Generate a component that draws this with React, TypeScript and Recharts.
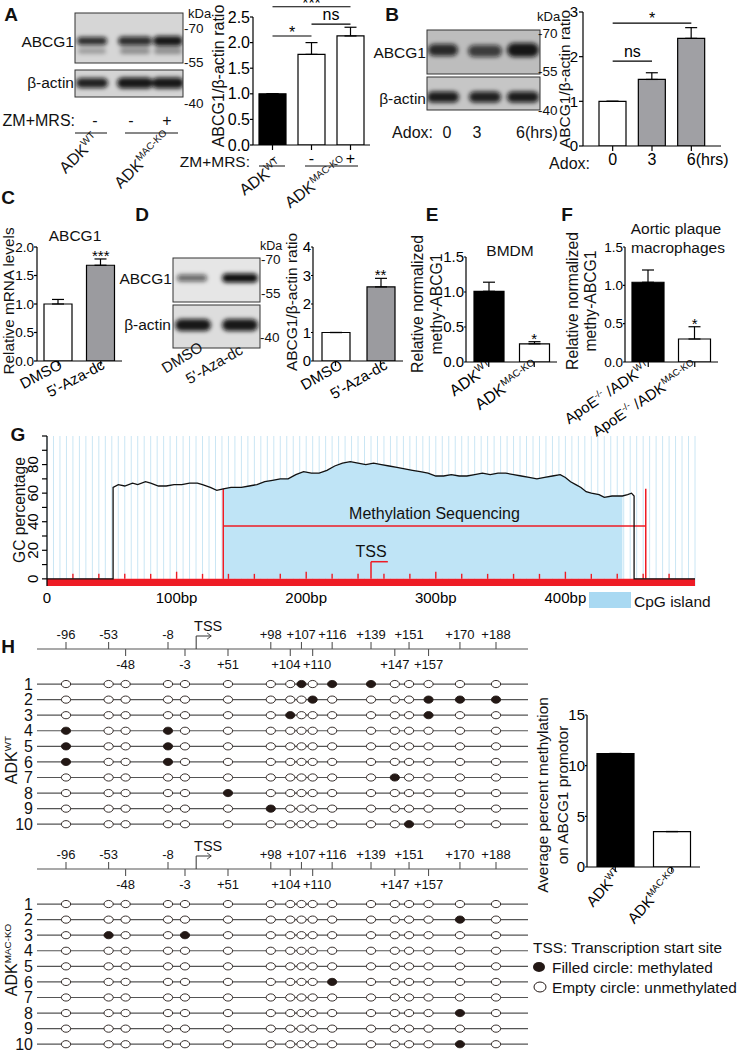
import React from 'react';
import {
  Area,
  Bar,
  BarChart,
  CartesianGrid,
  Cell,
  ComposedChart,
  ErrorBar,
  Line,
  ReferenceArea,
  ReferenceDot,
  ReferenceLine,
  Scatter,
  ScatterChart,
  XAxis,
  YAxis,
} from 'recharts';

const FONT = '"Liberation Sans", Arial, Helvetica, sans-serif';

// A: ABCG1 / beta-actin, ZM+MRS treatment
const aGroups = ['WT -', 'KO -', 'KO +'];
const aZmMrs = ['-', '-', '+'];
const aRatio = [1.0, 1.77, 2.13];
const aSem = [0, 0.23, 0.17];

// B: Adox time course
const bGroups = ['0h', '3h', '6h'];
const bAdox = ['0', '3', '6(hrs)'];
const bRatio = [1.0, 1.49, 2.41];
const bSem = [0, 0.15, 0.24];

// C: ABCG1 mRNA
const cGroups = ['DMSO', "5'-Aza-dc"];
const cMrna = [1.0, 1.68];
const cSem = [0.08, 0.11];

// D: ABCG1 protein after 5'-Aza-dc
const dRatio = [1.0, 2.6];
const dSem = [0, 0.3];

// E: BMDM methylation
const eGroups = ['ADK{WT}', 'ADK{MAC-KO}'];
const eMethy = [1.01, 0.26];
const eSem = [0.13, 0.03];

// F: aortic plaque macrophages
const fGroups = ['ApoE{-/-} /ADK{WT}', 'ApoE{-/-} /ADK{MAC-KO}'];
const fMethy = [1.04, 0.3];
const fSem = [0.16, 0.16];

// G: GC percentage along the promoter
const gcBp = [
  0, 51, 51, 55, 60, 66, 70, 76, 80, 86, 92, 98, 104, 110, 116, 120, 126, 131, 136, 142,
  150, 156, 162, 168, 174, 180, 186, 192, 198, 204, 210, 216, 222, 228, 234, 240, 246, 252,
  258, 264, 270, 276, 282, 288, 294, 300, 306, 312, 318, 324, 330, 336, 342, 348, 354, 360,
  366, 372, 378, 384, 390, 396, 400, 404, 408, 412, 416, 420, 426, 430, 436, 440, 444, 448,
  451, 453, 453, 500,
];
const gcPct = [
  0, 0, 64, 66, 65, 67, 66, 68, 67, 65, 65, 66, 66, 67, 67, 66, 64, 62, 63, 64,
  64, 65, 66, 68, 69, 70, 70, 73, 75, 74, 74, 76, 79, 81, 82, 81, 80, 81,
  80, 79, 78, 77, 76, 75, 74, 72, 72, 73, 72, 72, 73, 74, 73, 74, 74, 73,
  72, 71, 70, 71, 72, 73, 71, 68, 66, 64, 61, 60, 59, 57, 58, 58, 58, 59,
  60, 58, 0, 0,
];
const islandStart = 136;
const islandEnd = 444;
const seqStart = 136;
const seqEnd = 462;
const seqLevel = 37;
const seqTop = 63;
const tssBp = 250;
const gcXTicks = [0, 100, 200, 300, 400];
const gcYTicks = [0, 10, 20, 30, 40, 50, 60, 70, 80, 90, 100];
const redTicks = [20, 40, 60, 80, 100, 120, 140, 160, 180, 200, 220, 240, 260, 280, 300, 320, 340, 360, 380, 400, 420, 440, 460, 480];
const stripeTicks = Array.from({ length: 101 }, (_, i) => i * 5);

// H: bisulfite sequencing of CpG sites (bp relative to TSS)
const sites = [-96, -53, -48, -8, -3, 51, 98, 104, 107, 110, 116, 139, 147, 151, 157, 170, 188];
const upperSites = [-96, -53, -8, 98, 107, 116, 139, 151, 170, 188];
const wtMethylated = [
  [107, 116, 139],
  [110, 157, 170, 188],
  [104, 157],
  [-96, -8],
  [-96, -8],
  [-96, -8],
  [147],
  [51],
  [98],
  [151],
];
const koMethylated = [[], [170], [-53, -3], [], [], [116], [], [170], [], [170]];
const cloneRows = [1, 2, 3, 4, 5, 6, 7, 8, 9, 10];
const hGroups = ['ADK{WT}', 'ADK{MAC-KO}'];
const hPercent = [11.2, 3.5];

// schematic spacing of the CpG map: short gaps are widened, long ones squeezed
const gapWidth = (bp: number) => 1 - Math.exp(-bp / 10);
const sitePos = sites.reduce<number[]>((acc, s, i) => {
  acc.push(i === 0 ? 0 : acc[i - 1] + gapWidth(s - sites[i - 1]));
  return acc;
}, []);
const lastUpstream = sites.filter((s) => s < 0).length - 1;
const tssPos = sitePos[lastUpstream] + gapWidth(0 - sites[lastUpstream]);
const siteTicks = [...sitePos, tssPos].sort((a, b) => a - b);

// map chart geometry, also used to keep neighbouring site labels apart
const MAP_W = 530;
const MAP_YW = 37;
const MAP_PAD_L = 29;
const MAP_PAD_R = 32;
const MAP_MR = 2;
const unitPx = (MAP_W - MAP_MR - MAP_YW - MAP_PAD_L - MAP_PAD_R) / sitePos[sitePos.length - 1];
const siteLabel = (s: number) => (s > 0 ? `+${s}` : `${s}`);
const labelWidth = (t: string) => [...t].reduce((w, ch) => w + (ch === '+' ? 7.6 : ch === '-' ? 4.3 : 7.2), 0);
const labelShift: Record<number, number> = {};
[true, false].forEach((up) => {
  const row = sites
    .map((s, i) => ({ s, c: sitePos[i] * unitPx, w: labelWidth(siteLabel(s)) }))
    .filter((d) => upperSites.includes(d.s) === up);
  const shift = row.map(() => 0);
  for (let k = 0; k < row.length - 1; k++) {
    const need = (row[k].w + row[k + 1].w) / 2 + 2;
    const gap = row[k + 1].c + shift[k + 1] - (row[k].c + shift[k]);
    if (gap < need) {
      shift[k] -= (need - gap) / 2;
      shift[k + 1] += (need - gap) / 2;
    }
  }
  row.forEach((d, k) => {
    labelShift[d.s] = shift[k];
  });
});

function rich(label: string, fs: number) {
  const parts = label.split(/(\{[^}]*\})/).filter(Boolean);
  return parts.map((p, i) => {
    const sup = p.startsWith('{');
    const prevSup = i > 0 && parts[i - 1].startsWith('{');
    if (sup) {
      return (
        <tspan key={i} fontSize={fs * 0.62} dy={-fs * 0.4}>
          {p.slice(1, -1)}
        </tspan>
      );
    }
    return (
      <tspan key={i} fontSize={fs} dy={prevSup ? fs * 0.4 : 0}>
        {p}
      </tspan>
    );
  });
}

const plainTick = (labels: string[], fs: number, shift = 0) => (p: any) => (
  <text
    x={p.x + shift}
    y={p.y}
    dy="0.78em"
    textAnchor={shift ? 'start' : 'middle'}
    fontSize={fs}
    fontFamily={FONT}
    fill="#000"
  >
    {labels[p.index]}
  </text>
);

const rotTick = (labels: string[], fs: number, angle: number, dx: number, dy: number) => (p: any) => (
  <g transform={`translate(${p.x + dx},${p.y + dy}) rotate(${angle})`}>
    <text x={0} y={0} dy="0.72em" textAnchor="end" fontSize={fs} fontFamily={FONT} fill="#000">
      {rich(labels[p.index], fs)}
    </text>
  </g>
);

interface Bracket {
  from: number;
  to: number;
  y: number;
  text: string;
  offset: number;
}

interface Star {
  index: number;
  text: string;
  offset: number;
}

interface BarPanelProps {
  left: number;
  right: number;
  top: number;
  bottom: number;
  names: string[];
  values: number[];
  sems: number[];
  fills: string[];
  max: number;
  ticks: number[];
  decimals: number;
  fontSize: number;
  barSize: number;
  tick: (p: any) => React.ReactElement;
  yTickSize?: number;
  yTickMargin?: number;
  padX?: number;
  brackets?: Bracket[];
  stars?: Star[];
}

function BarPanel(props: BarPanelProps) {
  const YW = 110;
  const MT = 40;
  const MR = 30;
  const XH = 110;
  const data = props.names.map((name, i) => ({
    name,
    value: props.values[i],
    sem: [0, props.sems[i]],
  }));
  return (
    <div style={{ position: 'absolute', left: props.left - YW, top: props.top - MT }}>
      <BarChart
        width={YW + props.right - props.left + MR}
        height={MT + props.bottom - props.top + XH}
        data={data}
        margin={{ top: MT, right: MR, bottom: 0, left: 0 }}
      >
        <XAxis
          dataKey="name"
          type="category"
          height={XH}
          interval={0}
          tick={props.tick}
          tickSize={5}
          axisLine={{ stroke: '#000', strokeWidth: 1.2 }}
          tickLine={{ stroke: '#000', strokeWidth: 1.2 }}
          padding={{ left: props.padX ?? 0, right: props.padX ?? 0 }}
        />
        <YAxis
          type="number"
          domain={[0, props.max]}
          ticks={props.ticks}
          allowDataOverflow
          interval={0}
          width={YW}
          tickSize={props.yTickSize ?? 3}
          tickMargin={props.yTickMargin ?? 0}
          tickFormatter={(v: number) => v.toFixed(props.decimals)}
          tick={{ fontSize: props.fontSize, fill: '#000', fontFamily: FONT }}
          axisLine={{ stroke: '#000', strokeWidth: 1.2 }}
          tickLine={{ stroke: '#000', strokeWidth: 1.2 }}
        />
        <Bar dataKey="value" barSize={props.barSize} stroke="#000" strokeWidth={1.2} isAnimationActive={false}>
          {data.map((d, i) => (
            <Cell key={d.name} fill={props.fills[i]} />
          ))}
          <ErrorBar dataKey="sem" width={6} stroke="#000" strokeWidth={1.2} direction="y" isAnimationActive={false} />
        </Bar>
        {(props.brackets ?? []).map((b) => (
          <ReferenceLine
            key={b.text + b.from + b.to}
            segment={[
              { x: props.names[b.from], y: b.y },
              { x: props.names[b.to], y: b.y },
            ]}
            stroke="#000"
            strokeWidth={1.1}
            ifOverflow="visible"
            label={{ value: b.text, position: 'top', offset: b.offset, fontSize: 16, fill: '#000', fontFamily: FONT }}
          />
        ))}
        {(props.stars ?? []).map((s) => (
          <ReferenceDot
            key={s.text + s.index}
            x={props.names[s.index]}
            y={props.values[s.index] + props.sems[s.index]}
            r={0}
            fill="none"
            stroke="none"
            ifOverflow="visible"
            label={{ value: s.text, position: 'top', offset: s.offset, fontSize: 15, fill: '#000', fontFamily: FONT }}
          />
        ))}
      </BarChart>
    </div>
  );
}

const GcYTick = (p: any) => {
  const v = p.payload.value;
  if (v % 20 !== 0 || v === 100) return <g />;
  const x = p.x - 0.5;
  return (
    <text
      x={x}
      y={p.y}
      transform={`rotate(-90 ${x} ${p.y})`}
      textAnchor="middle"
      fontSize={15}
      fontFamily={FONT}
      fill="#000"
    >
      {v}
    </text>
  );
};

function GcChart() {
  const data = gcBp.map((bp, i) => ({
    bp,
    gc: gcPct[i],
    island: bp >= islandStart && bp <= islandEnd ? gcPct[i] : null,
  }));
  return (
    <div style={{ position: 'absolute', left: 0, top: 426 }}>
      <ComposedChart width={705} height={185} data={data} margin={{ top: 10, right: 10, bottom: 0, left: 0 }}>
        <XAxis
          xAxisId="stripe"
          type="number"
          dataKey="bp"
          domain={[0, 500]}
          ticks={stripeTicks}
          interval={0}
          allowDataOverflow
          hide
        />
        <CartesianGrid xAxisId="stripe" horizontal={false} syncWithTicks stroke="#cae6f4" strokeWidth={1} />
        <XAxis
          type="number"
          dataKey="bp"
          domain={[0, 500]}
          allowDataOverflow
          ticks={gcXTicks}
          interval={0}
          tickFormatter={(v: number) => (v === 0 ? '0' : `${v}bp`)}
          axisLine={false}
          tickLine={false}
          tickSize={0}
          tickMargin={6}
          height={25}
          tick={{ fontSize: 15, fill: '#000', fontFamily: FONT }}
        />
        <YAxis
          type="number"
          domain={[-5, 100]}
          ticks={gcYTicks}
          interval={0}
          allowDataOverflow
          width={47}
          tickSize={5}
          tickMargin={3}
          tick={GcYTick}
          axisLine={{ stroke: '#000', strokeWidth: 1.2 }}
          tickLine={{ stroke: '#000', strokeWidth: 1.2 }}
        />
        <Area
          type="linear"
          dataKey="island"
          baseValue={0}
          fill="#bfe4f6"
          fillOpacity={1}
          stroke="none"
          isAnimationActive={false}
        />
        <ReferenceArea x1={0} x2={500} y1={-5} y2={0} fill="#ee1c25" fillOpacity={1} stroke="none" ifOverflow="visible" />
        {redTicks.map((t) => (
          <ReferenceLine
            key={t}
            segment={[
              { x: t, y: 0 },
              { x: t, y: t % 100 === 0 ? 5 : 3.5 },
            ]}
            stroke="#ee1c25"
            strokeWidth={1.4}
          />
        ))}
        <ReferenceLine
          segment={[
            { x: seqStart, y: 0 },
            { x: seqStart, y: seqTop },
          ]}
          stroke="#ee1c25"
          strokeWidth={1.5}
        />
        <ReferenceLine
          segment={[
            { x: seqEnd, y: 0 },
            { x: seqEnd, y: seqTop },
          ]}
          stroke="#ee1c25"
          strokeWidth={1.5}
        />
        <ReferenceLine
          segment={[
            { x: seqStart, y: seqLevel },
            { x: seqEnd, y: seqLevel },
          ]}
          stroke="#ee1c25"
          strokeWidth={1.5}
          label={{ value: 'Methylation Sequencing', position: 'top', offset: 7, fontSize: 16, fill: '#111', fontFamily: FONT }}
        />
        <ReferenceLine
          segment={[
            { x: tssBp, y: 0 },
            { x: tssBp, y: 12 },
          ]}
          stroke="#ee1c25"
          strokeWidth={1.5}
          label={{ value: 'TSS', position: 'top', offset: 5, fontSize: 16, fill: '#111', fontFamily: FONT }}
        />
        <ReferenceLine
          segment={[
            { x: tssBp, y: 12 },
            { x: tssBp + 13, y: 12 },
          ]}
          stroke="#ee1c25"
          strokeWidth={1.5}
        />
        <Line type="linear" dataKey="gc" stroke="#111" strokeWidth={1.3} dot={false} isAnimationActive={false} />
      </ComposedChart>
    </div>
  );
}

const SiteTick = (p: any) => {
  const v = p.payload.value;
  const x = p.x;
  const y = p.y;
  if (Math.abs(v - tssPos) < 1e-9) {
    return (
      <g>
        <line x1={x} y1={y} x2={x} y2={y - 13} stroke="#444" strokeWidth={1.1} />
        <line x1={x} y1={y - 13} x2={x + 15} y2={y - 13} stroke="#444" strokeWidth={1.1} />
        <path d={`M${x + 11},${y - 16} L${x + 15},${y - 13} L${x + 11},${y - 10}`} fill="none" stroke="#444" strokeWidth={1} />
        <text x={x + 12} y={y - 18} textAnchor="middle" fontSize={14.5} fontFamily={FONT} fill="#111">
          TSS
        </text>
      </g>
    );
  }
  const i = sitePos.findIndex((s) => Math.abs(s - v) < 1e-9);
  const site = sites[i];
  const up = upperSites.includes(site);
  return (
    <g>
      <line x1={x} y1={y} x2={x} y2={up ? y - 7 : y + 7} stroke="#555" strokeWidth={1.1} />
      <text
        x={x + (labelShift[site] ?? 0)}
        y={up ? y - 10 : y + 20}
        textAnchor="middle"
        fontSize={13}
        fontFamily={FONT}
        fill="#111"
      >
        {siteLabel(site)}
      </text>
    </g>
  );
};

const SiteDot = (p: any) => (
  <ellipse
    cx={p.cx}
    cy={p.cy}
    rx={4.6}
    ry={3.6}
    fill={p.payload.m ? '#231815' : '#fff'}
    stroke="#231815"
    strokeWidth={0.9}
  />
);

function MethylationMap({ rows, axisY }: { rows: number[][]; axisY: number }) {
  const points = rows.flatMap((m, r) =>
    sites.map((s, i) => ({ pos: sitePos[i], row: cloneRows[r], m: m.includes(s) })),
  );
  return (
    <div style={{ position: 'absolute', left: 0, top: axisY - 40 }}>
      <ScatterChart width={MAP_W} height={223} margin={{ top: 10, right: MAP_MR, bottom: 0, left: 0 }}>
        <CartesianGrid horizontal vertical={false} syncWithTicks stroke="#555" strokeWidth={1.2} />
        <XAxis
          type="number"
          dataKey="pos"
          orientation="top"
          height={30}
          domain={['dataMin', 'dataMax']}
          padding={{ left: MAP_PAD_L, right: MAP_PAD_R }}
          ticks={siteTicks}
          interval={0}
          tick={SiteTick}
          tickLine={false}
          tickSize={0}
          tickMargin={0}
          axisLine={{ stroke: '#555', strokeWidth: 1.2 }}
        />
        <YAxis
          type="number"
          dataKey="row"
          domain={[-1.25, 10.5]}
          reversed
          allowDataOverflow
          ticks={cloneRows}
          interval={0}
          width={MAP_YW}
          axisLine={false}
          tickLine={false}
          tickSize={2}
          tickMargin={2}
          tick={{ fontSize: 16, fill: '#111', fontFamily: FONT }}
        />
        <Scatter data={points} shape={SiteDot} isAnimationActive={false} />
      </ScatterChart>
    </div>
  );
}

function Blot({ x, y, w, h, bg, bands }: { x: number; y: number; w: number; h: number; bg: string; bands: number[][] }) {
  const id = `clip-${x}-${y}`;
  return (
    <g>
      <clipPath id={id}>
        <rect x={x} y={y} width={w} height={h} />
      </clipPath>
      <rect x={x} y={y} width={w} height={h} fill={bg} />
      <g clipPath={`url(#${id})`}>
        <g filter="url(#blotBlur)">
          {bands.map((b, i) => (
            <rect key={i} x={b[0] - b[2]} y={b[1] - b[3]} width={b[2] * 2} height={b[3] * 2} rx={b[3]} fill="#0b0b0b" opacity={b[4]} />
          ))}
        </g>
      </g>
      <rect x={x} y={y} width={w} height={h} fill="none" stroke="#333" strokeWidth={1} />
    </g>
  );
}

function T({
  x,
  y,
  size = 16,
  anchor = 'start',
  rotate = 0,
  weight = 400,
  children,
}: {
  x: number;
  y: number;
  size?: number;
  anchor?: 'start' | 'middle' | 'end';
  rotate?: number;
  weight?: number;
  children: React.ReactNode;
}) {
  return (
    <text
      x={x}
      y={y}
      fontSize={size}
      fontWeight={weight}
      textAnchor={anchor}
      dominantBaseline="central"
      fontFamily={FONT}
      fill="#111"
      transform={rotate ? `rotate(${rotate} ${x} ${y})` : undefined}
    >
      {children}
    </text>
  );
}

function RotLabel({ x, y, angle, label, size = 16 }: { x: number; y: number; angle: number; label: string; size?: number }) {
  return (
    <g transform={`translate(${x},${y}) rotate(${angle})`}>
      <text x={0} y={0} dy="0.72em" textAnchor="end" fontSize={size} fontFamily={FONT} fill="#111">
        {rich(label, size)}
      </text>
    </g>
  );
}

function Overlay() {
  return (
    <svg width={738} height={1050} style={{ position: 'absolute', left: 0, top: 0, pointerEvents: 'none' }}>
      <defs>
        <filter id="blotBlur" x="-30%" y="-80%" width="160%" height="260%">
          <feGaussianBlur stdDeviation="2.2" />
        </filter>
      </defs>

      {/* panel letters */}
      {[
        ['A', 11, 14],
        ['B', 392, 14],
        ['C', 8, 197],
        ['D', 142, 214],
        ['E', 432, 214],
        ['F', 567, 214],
        ['G', 18, 434],
        ['H', 8, 646],
      ].map(([l, x, y]) => (
        <T key={l as string} x={x as number} y={y as number} size={19} weight={700} anchor="middle">
          {l}
        </T>
      ))}

      {/* A blot */}
      <Blot x={75} y={13} w={108} h={50} bg="#d6d6d6" bands={[[92, 41, 15, 4, 0.85], [135, 41, 17, 4.5, 0.85], [168, 41, 15, 5, 0.95], [92, 51, 14, 2.5, 0.3], [135, 51, 15, 3, 0.35], [168, 51, 14, 3, 0.35]]} />
      <Blot x={75} y={70} w={108} h={27} bg="#d4d4d4" bands={[[92, 83, 16, 5, 0.9], [135, 83, 18, 5.5, 0.95], [168, 83, 16, 5.5, 0.95]]} />
      <T x={74} y={41} anchor="end" size={15.5}>ABCG1</T>
      <T x={74} y={82} anchor="end" size={15.5}>β-actin</T>
      <T x={188} y={13} size={13}>kDa</T>
      <T x={184} y={28} size={13.5}>-70</T>
      <T x={184} y={62} size={13.5}>-55</T>
      <T x={184} y={103} size={13.5}>-40</T>
      <T x={75} y={120} anchor="end">ZM+MRS:</T>
      <T x={95} y={120} anchor="middle">-</T>
      <T x={131} y={120} anchor="middle">-</T>
      <T x={167} y={120} anchor="middle">+</T>
      <line x1={75} y1={133} x2={107} y2={133} stroke="#111" />
      <line x1={125} y1={133} x2={178} y2={133} stroke="#111" />
      <RotLabel x={100} y={140} angle={-45} label="ADK{WT}" />
      <RotLabel x={172} y={138} angle={-45} label="ADK{MAC-KO}" />

      {/* A bar chart annotations */}
      <T x={218} y={76} rotate={-90} anchor="middle" size={16}>ABCG1/β-actin ratio</T>
      <T x={250} y={161} anchor="end" size={15.5}>ZM+MRS:</T>
      <line x1={259} y1={166} x2={285} y2={166} stroke="#111" />
      <line x1={305} y1={166} x2={358} y2={166} stroke="#111" />
      <RotLabel x={283} y={167} angle={-37} label="ADK{WT}" />
      <RotLabel x={348} y={165} angle={-37} label="ADK{MAC-KO}" />

      {/* B blot */}
      <Blot x={427} y={30} w={113} h={44} bg="#bdbdbd" bands={[[443, 50, 15, 6, 0.85], [485, 51, 17, 6, 0.75], [523, 50, 16, 7, 0.95]]} />
      <Blot x={427} y={77} w={113} h={33} bg="#c6c6c6" bands={[[443, 97, 16, 5.5, 0.92], [485, 97, 16, 5.5, 0.9], [523, 97, 16, 5.5, 0.92]]} />
      <T x={426} y={52} anchor="end" size={15.5}>ABCG1</T>
      <T x={426} y={98} anchor="end" size={15.5}>β-actin</T>
      <T x={537} y={16} size={13}>kDa</T>
      <T x={538} y={33} size={13.5}>-70</T>
      <T x={538} y={71} size={13.5}>-55</T>
      <T x={538} y={110} size={13.5}>-40</T>
      <T x={433} y={132} anchor="end">Adox:</T>
      <T x={447} y={132} anchor="middle">0</T>
      <T x={477} y={132} anchor="middle">3</T>
      <T x={516} y={132}>6(hrs)</T>
      <T x={564} y={79} rotate={-90} anchor="middle" size={15.5}>ABCG1/β-actin ratio</T>
      <T x={590} y={163} anchor="end">Adox:</T>

      {/* C */}
      <T x={75} y={235} anchor="middle" size={15.5}>ABCG1</T>
      <T x={8.5} y={301} rotate={-90} anchor="middle" size={15.3}>Relative mRNA levels</T>

      {/* D blot */}
      <Blot x={173} y={258} w={87} h={44} bg="#e6e6e6" bands={[[192, 278, 15, 3.5, 0.6], [240, 278, 18, 4.5, 1]]} />
      <Blot x={173} y={305} w={87} h={43} bg="#dddddd" bands={[[193, 325, 18, 6, 0.95], [240, 325, 18, 6, 0.95]]} />
      <T x={172} y={278} anchor="end" size={15.5}>ABCG1</T>
      <T x={171} y={324} anchor="end" size={15.5}>β-actin</T>
      <T x={260} y={246} size={12.5}>kDa</T>
      <T x={261} y={259} size={13.5}>-70</T>
      <T x={261} y={293} size={13.5}>-55</T>
      <T x={260} y={337} size={13.5}>-40</T>
      <RotLabel x={204} y={350} angle={-32} label="DMSO" size={15} />
      <RotLabel x={244} y={353} angle={-30} label="5'-Aza-dc" size={15} />
      <T x={291} y={302} rotate={-90} anchor="middle" size={15.5}>ABCG1/β-actin ratio</T>

      {/* E */}
      <T x={510} y={250} anchor="middle" size={15.5}>BMDM</T>
      <T x={417} y={304} rotate={-90} anchor="middle" size={15.7}>Relative normalized</T>
      <T x={436} y={304} rotate={-90} anchor="middle" size={15.7}>methy-ABCG1</T>

      {/* F */}
      <T x={676} y={228} anchor="middle" size={15.5}>Aortic plaque</T>
      <T x={678} y={247} anchor="middle" size={15.5}>macrophages</T>
      <T x={572} y={301} rotate={-90} anchor="middle" size={15.7}>Relative normalized</T>
      <T x={590} y={301} rotate={-90} anchor="middle" size={15.7}>methy-ABCG1</T>

      {/* G */}
      <T x={19} y={510} rotate={-90} anchor="middle" size={15.6}>GC percentage</T>
      <rect x={589} y={592} width={42} height={16} fill="#a9d9f2" />
      <T x={634} y={601} size={15.5}>CpG island</T>

      {/* H */}
      <text x={17} y={760} transform="rotate(-90 17 760)" textAnchor="middle" fontSize={16} fontFamily={FONT} fill="#111">
        {rich('ADK{WT}', 16)}
      </text>
      <text x={17} y={960} transform="rotate(-90 17 960)" textAnchor="middle" fontSize={16} fontFamily={FONT} fill="#111">
        {rich('ADK{MAC-KO}', 16)}
      </text>
      <T x={542} y={795} rotate={-90} anchor="middle" size={15.4}>Average percent methylation</T>
      <T x={562} y={795} rotate={-90} anchor="middle" size={15.4}>on ABCG1 promotor</T>
      <T x={533} y={947} size={15.4}>TSS: Transcription start site</T>
      <ellipse cx={539} cy={967} rx={6} ry={5} fill="#231815" />
      <T x={552} y={967} size={15.4}>Filled circle: methylated</T>
      <ellipse cx={540} cy={987} rx={6} ry={5} fill="#fff" stroke="#231815" strokeWidth={1} />
      <T x={552} y={987} size={15.4}>Empty circle: unmethylated</T>
    </svg>
  );
}

export default function App() {
  return (
    <div
      style={{
        position: 'absolute',
        left: 0,
        top: 0,
        width: 738,
        height: 1050,
        background: '#fff',
        overflow: 'hidden',
        fontFamily: FONT,
      }}
    >
      <BarPanel
        left={253}
        right={370}
        top={17}
        bottom={145}
        names={aGroups}
        values={aRatio}
        sems={aSem}
        fills={['#000', '#fff', '#fff']}
        max={2.5}
        ticks={[0, 0.5, 1, 1.5, 2, 2.5]}
        decimals={1}
        fontSize={16}
        barSize={27}
        tick={plainTick(aZmMrs, 16)}
        brackets={[
          { from: 0, to: 1, y: 2.13, text: '*', offset: -2 },
          { from: 1, to: 2, y: 2.36, text: 'ns', offset: 4 },
          { from: 0, to: 2, y: 2.7, text: '***', offset: -2 },
        ]}
      />
      <BarPanel
        left={583}
        right={721}
        top={12}
        bottom={146}
        names={bGroups}
        values={bRatio}
        sems={bSem}
        fills={['#fff', '#a0a0a4', '#a0a0a4']}
        max={3}
        ticks={[0, 1, 2, 3]}
        decimals={0}
        fontSize={15}
        barSize={27}
        padX={10}
        yTickSize={4}
        yTickMargin={1}
        tick={plainTick(bAdox, 16, -4.5)}
        brackets={[
          { from: 0, to: 1, y: 1.9, text: 'ns', offset: 4 },
          { from: 0, to: 2, y: 2.75, text: '*', offset: -1 },
        ]}
      />
      <BarPanel
        left={37}
        right={122}
        top={247}
        bottom={361}
        names={cGroups}
        values={cMrna}
        sems={cSem}
        fills={['#fff', '#9b9b9f']}
        max={2}
        ticks={[0, 0.5, 1, 1.5, 2]}
        decimals={1}
        fontSize={13.5}
        barSize={28}
        tick={rotTick(cGroups, 15, -28, 5, 0)}
        stars={[{ index: 1, text: '***', offset: -2 }]}
      />
      <BarPanel
        left={313}
        right={403}
        top={247}
        bottom={361}
        names={cGroups}
        values={dRatio}
        sems={dSem}
        fills={['#fff', '#9b9b9f']}
        max={4}
        ticks={[0, 1, 2, 3, 4]}
        decimals={0}
        fontSize={15}
        barSize={28}
        yTickSize={2}
        tick={rotTick(cGroups, 15, -30, 8, 0)}
        stars={[{ index: 1, text: '**', offset: -2 }]}
      />
      <BarPanel
        left={466}
        right={557}
        top={257}
        bottom={362}
        names={eGroups}
        values={eMethy}
        sems={eSem}
        fills={['#000', '#fff']}
        max={1.5}
        ticks={[0, 0.5, 1, 1.5]}
        decimals={1}
        fontSize={15}
        barSize={30}
        yTickSize={2}
        tick={rotTick(eGroups, 16, -35, 5, 0)}
        stars={[{ index: 1, text: '*', offset: -2 }]}
      />
      <BarPanel
        left={625}
        right={718}
        top={247}
        bottom={362}
        names={fGroups}
        values={fMethy}
        sems={fSem}
        fills={['#000', '#fff']}
        max={1.5}
        ticks={[0, 0.5, 1, 1.5]}
        decimals={1}
        fontSize={13.5}
        barSize={32}
        yTickSize={2}
        tick={rotTick(fGroups, 15, -34, 3, 0)}
        stars={[{ index: 1, text: '*', offset: -2 }]}
      />
      <GcChart />
      <MethylationMap rows={wtMethylated} axisY={649} />
      <MethylationMap rows={koMethylated} axisY={869} />
      <BarPanel
        left={587}
        right={700}
        top={715}
        bottom={867}
        names={hGroups}
        values={hPercent}
        sems={[0, 0]}
        fills={['#000', '#fff']}
        max={15}
        ticks={[0, 5, 10, 15]}
        decimals={0}
        fontSize={15}
        barSize={37}
        yTickSize={2}
        tick={rotTick(hGroups, 15, -48, 8, 0)}
      />
      <Overlay />
    </div>
  );
}
